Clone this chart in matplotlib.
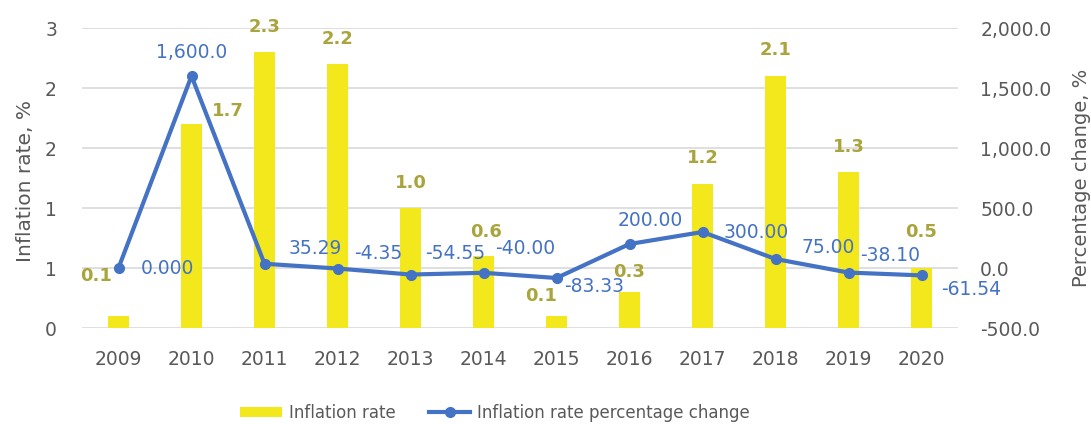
import math
import matplotlib
matplotlib.use("Agg")
import matplotlib.pyplot as plt
from matplotlib.ticker import FuncFormatter

# data
years = ["2009", "2010", "2011", "2012", "2013", "2014",
         "2015", "2016", "2017", "2018", "2019", "2020"]
inflation = [0.1, 1.7, 2.3, 2.2, 1.0, 0.6, 0.1, 0.3, 1.2, 2.1, 1.3, 0.5]
pct_change = [0.0, 1600.0, 35.29, -4.35, -54.55, -40.00,
              -83.33, 200.00, 300.00, 75.00, -38.10, -61.54]
pct_labels = ["0.000", "1,600.0", "35.29", "-4.35", "-54.55", "-40.00",
              "-83.33", "200.00", "300.00", "75.00", "-38.10", "-61.54"]

# label nudges in pixels (x, y up)
bar_offsets = [(-22, 40), (36, 13), (0, 25), (0, 25), (0, 25), (3, 24),
               (-15, 20), (0, 20), (0, 26), (0, 26), (0, 25), (0, 36)]
line_offsets = [(49, 0), (0, 23), (51, 15), (41, 15), (45, 21), (42, 24),
                (38, -9), (21, 24), (54, 0), (53, 12), (42, 17), (50, -14)]

YELLOW = "#F2E81C"
OLIVE = "#A9A43C"
BLUE = "#4472C4"
GREY = "#595959"

fig = plt.figure(figsize=(10.91, 4.24), dpi=100)
ax = fig.add_axes([82 / 1091, 1 - 328 / 424, 876 / 1091, 300 / 424])
ax2 = ax.twinx()

x = list(range(len(years)))
bars = ax.bar(x, inflation, width=0.3, color=YELLOW, zorder=2, label="Inflation rate")
line, = ax2.plot(x, pct_change, color=BLUE, lw=3, marker="o", ms=7,
                 zorder=3, label="Inflation rate percentage change")

ax.set_xlim(-0.5, len(years) - 0.5)
ax.set_ylim(0, 2.5)
ax.set_yticks([0, 0.5, 1.0, 1.5, 2.0, 2.5])
# Excel style "0" format, rounds half up
ax.yaxis.set_major_formatter(FuncFormatter(lambda v, _: str(int(math.floor(v + 0.5 + 1e-9)))))
ax2.set_ylim(-500, 2000)
ax2.set_yticks([-500, 0, 500, 1000, 1500, 2000])
ax2.yaxis.set_major_formatter(FuncFormatter(lambda v, _: "{:,.1f}".format(v)))

ax.set_xticks(x)
ax.set_xticklabels(years)
ax.grid(axis="y", color="#D9D9D9", lw=1.2, zorder=0)
ax.set_axisbelow(True)

for a in (ax, ax2):
    for s in a.spines.values():
        s.set_visible(False)
    a.tick_params(length=0, labelsize=13.5, labelcolor=GREY)
ax.tick_params(axis="y", pad=18)
ax.tick_params(axis="x", pad=16)
ax2.tick_params(axis="y", pad=16)

ax.set_ylabel("Inflation rate, %", fontsize=14.5, color=GREY)
ax.yaxis.set_label_coords(-0.054, 0.49)
ax2.set_ylabel("Percentage change, %", fontsize=14, color=GREY, rotation=90)
ax2.yaxis.set_label_coords(1.13, 0.5)

for xi, v, off in zip(x, inflation, bar_offsets):
    ax.annotate("%.1f" % v, (xi, v), xytext=off, textcoords="offset pixels",
                ha="center", va="center", fontsize=13, fontweight="bold",
                color=OLIVE, zorder=4)

for xi, v, lab, off in zip(x, pct_change, pct_labels, line_offsets):
    ax2.annotate(lab, (xi, v), xytext=off, textcoords="offset pixels",
                 ha="center", va="center", fontsize=13.5, color=BLUE, zorder=5)

leg = fig.legend([bars, line], ["Inflation rate", "Inflation rate percentage change"],
                 loc="center", bbox_to_anchor=(495 / 1091, 1 - 413 / 424), ncol=2,
                 frameon=False, fontsize=12, handlelength=2.5, handleheight=0.6,
                 handletextpad=0.4, columnspacing=2.0)
for t in leg.get_texts():
    t.set_color(GREY)

fig.savefig("out.png", dpi=100)
